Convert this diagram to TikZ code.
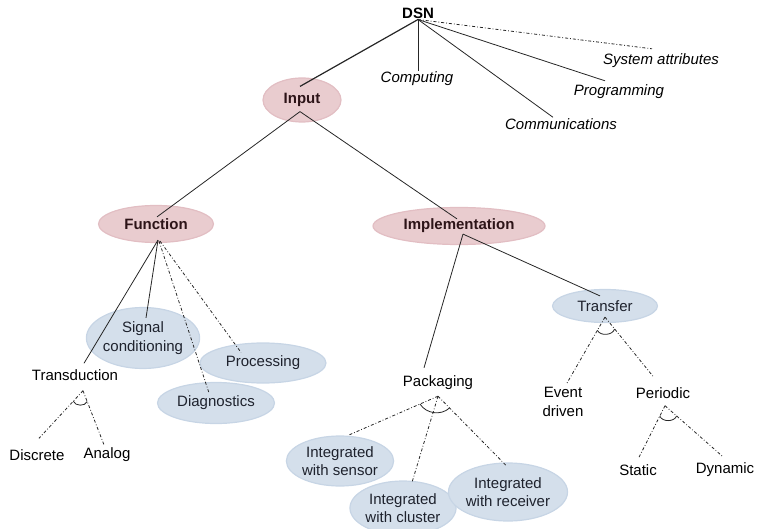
\documentclass[tikz,border=0pt]{standalone}
\usepackage{fontspec}
\setmainfont{Liberation Sans}
\usetikzlibrary{shapes.geometric}
\definecolor{pinkfill}{RGB}{233,204,207}
\definecolor{pinkline}{RGB}{226,190,195}
\definecolor{bluefill}{RGB}{212,223,235}
\definecolor{blueline}{RGB}{199,213,229}
\definecolor{darkred}{RGB}{45,20,24}
\definecolor{darkblue}{RGB}{30,34,45}

\begin{document}
\begin{tikzpicture}[x=1pt,y=-1pt,
  font=\fontsize{15}{18}\selectfont,
  txt/.style={inner sep=1pt,align=center},
  attr/.style={txt,font=\fontsize{15}{18}\selectfont\itshape},
  pinkell/.style={ellipse,fill=pinkfill,draw=pinkline,line width=1.2pt,inner sep=0pt,
    font=\fontsize{15}{18}\selectfont\bfseries,text=darkred},
  blueell/.style={ellipse,fill=bluefill,draw=blueline,line width=1.2pt,inner sep=0pt,
    align=center,text=darkblue},
  link/.style={line width=0.8pt,black!85},
  opt/.style={line width=0.8pt,black!85,dash pattern=on 3pt off 2pt on 0.8pt off 2pt},
  andmark/.style={line width=0.8pt,black!85}]
  \useasboundingbox (0,0) rectangle (757,529);

  % top level
  \node[txt,font=\fontsize{15}{18}\selectfont\bfseries] (dsn) at (418,13) {DSN};
  \node[attr] (comp) at (417,79) {Computing};
  \node[attr] (comm) at (561,124) {Communications};
  \node[attr] (prog) at (619,92) {Programming};
  \node[attr] (sys) at (661,61) {System attributes};
  \node[pinkell,minimum width=78pt,minimum height=44pt] (in) at (302,100) {Input};

  \draw[link,line width=1.2pt] (dsn.south) -- ([xshift=-2pt,yshift=-9pt]in.north);
  \draw[link] (dsn.south) -- (dsn.south |- comp.north);
  \draw[link] (dsn.south) -- ([xshift=-8pt]comm.north);
  \draw[link] (dsn.south) -- ([xshift=-14pt,yshift=3pt]prog.north);
  \draw[opt] (dsn.south) -- ([xshift=-9pt,yshift=4pt]sys.north);

  % second level
  \node[pinkell,minimum width=115pt,minimum height=37pt] (fn) at (156,224) {Function};
  \node[pinkell,minimum width=172pt,minimum height=37pt] (impl) at (459,226) {Implementation};

  \draw[link] ([xshift=-2pt,yshift=11pt]in.south) -- ([xshift=1pt,yshift=-12pt]fn.north);
  \draw[link] ([xshift=-2pt,yshift=11pt]in.south) -- ([xshift=-2pt,yshift=-12pt]impl.north);

  % function branch
  \node[blueell,minimum width=112pt,minimum height=61pt] (sig) at (143,338) {Signal\\[1pt]conditioning};
  \node[blueell,minimum width=126pt,minimum height=40pt] (proc) at (263,363) {Processing};
  \node[blueell,minimum width=117pt,minimum height=41pt] (diag) at (216,403) {Diagnostics};
  \node[txt] (trans) at (75,375) {Transduction};
  \node[txt] (disc) at (37,455) {Discrete};
  \node[txt] (ana) at (107,455) {Analog};

  \draw[link] ([xshift=2pt,yshift=3pt]fn.south) -- ([xshift=9pt,yshift=5pt]trans.north);
  \draw[link] ([xshift=2pt,yshift=3pt]fn.south) -- ([xshift=3pt,yshift=-11pt]sig.north);
  \draw[opt] ([xshift=3pt,yshift=2pt]fn.south) -- ([xshift=-7pt,yshift=-11pt]diag.north);
  \draw[opt] ([xshift=4pt,yshift=2pt]fn.south) -- ([xshift=-22pt,yshift=-10pt]proc.north);

  \draw[opt] ([xshift=8pt,yshift=-9pt]trans.south) -- coordinate[pos=0.22] (t1) ([xshift=2pt,yshift=10pt]disc.north);
  \draw[opt] ([xshift=8pt,yshift=-9pt]trans.south) -- coordinate[pos=0.2] (t2) ([xshift=-3pt,yshift=2pt]ana.north);
  \draw[andmark] (t1) to[bend right=70] (t2);

  % implementation branch
  \node[txt] (pack) at (438,383) {Packaging};
  \node[blueell,minimum width=104pt,minimum height=50pt] (isen) at (340,461) {Integrated\\with sensor};
  \node[blueell,minimum width=104pt,minimum height=54pt] (iclu) at (403,508) {Integrated\\with cluster};
  \node[blueell,minimum width=104pt,minimum height=58pt] (irec) at (508,492) {Integrated\\with receiver};
  \node[blueell,minimum width=105pt,minimum height=33pt] (tr) at (605,306) {Transfer};
  \node[txt] (ev) at (563,402) {Event\\[1pt]driven};
  \node[txt] (per) at (663,393) {Periodic};
  \node[txt] (stat) at (638,470) {Static};
  \node[txt] (dyn) at (725,470) {Dynamic};

  \draw[link] ([xshift=4pt,yshift=11pt]impl.south) -- ([xshift=-14pt,yshift=7pt]pack.north);
  \draw[link] ([xshift=4pt,yshift=11pt]impl.south) -- ([xshift=-5pt,yshift=-7pt]tr.north);

  \draw[opt] ([yshift=-5pt]pack.south) -- coordinate[pos=0.2] (p1) ([xshift=8pt]isen.north);
  \draw[opt] ([yshift=-5pt]pack.south) -- ([xshift=9pt,yshift=-2pt]iclu.north);
  \draw[opt] ([yshift=-5pt]pack.south) -- coordinate[pos=0.17] (p2) ([xshift=-2pt,yshift=-3pt]irec.north);
  \draw[andmark] (p1) to[bend right=50] (p2);

  \draw[opt] ([yshift=6pt]tr.south) -- coordinate[pos=0.2] (r1) ([xshift=4pt,yshift=3pt]ev.north);
  \draw[opt] ([yshift=6pt]tr.south) -- coordinate[pos=0.2] (r2) ([xshift=-10pt,yshift=10pt]per.north);
  \draw[andmark] (r1) to[bend right=70] (r2);

  \draw[opt] ([xshift=2pt,yshift=-6pt]per.south) -- coordinate[pos=0.2] (q1) ([xshift=1pt,yshift=6pt]stat.north);
  \draw[opt] ([xshift=2pt,yshift=-6pt]per.south) -- coordinate[pos=0.2] (q2) ([xshift=-2pt,yshift=5pt]dyn.north);
  \draw[andmark] (q1) to[bend right=70] (q2);
\end{tikzpicture}
\end{document}
